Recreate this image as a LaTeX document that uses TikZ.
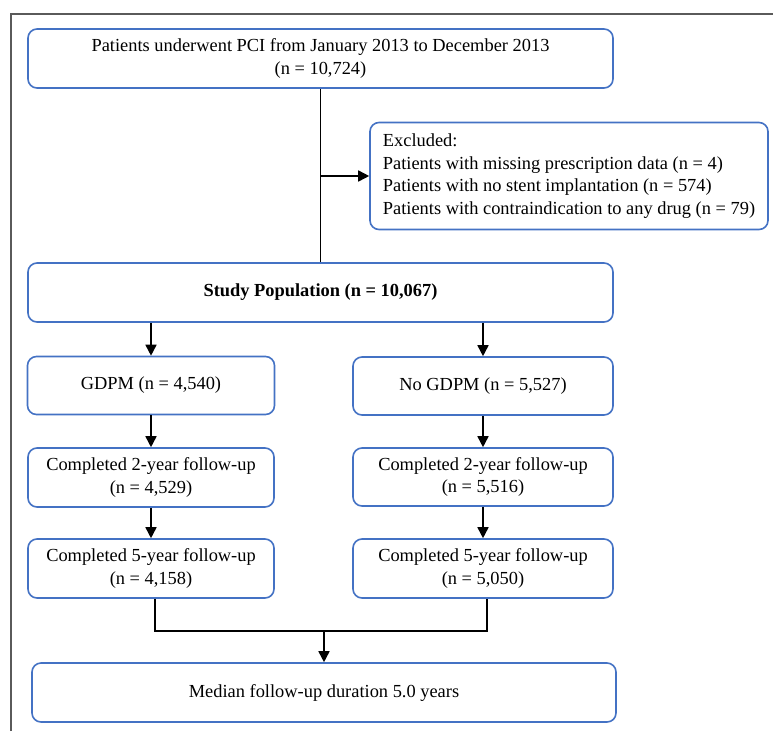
\documentclass[tikz,border=0pt]{standalone}
\usepackage{fontspec}
\setmainfont{Liberation Serif}
\usetikzlibrary{arrows.meta}
\definecolor{boxblue}{RGB}{68,114,196}
\definecolor{framegray}{RGB}{90,90,90}
\tikzset{
  flowbox/.style={draw=boxblue, line width=1.6pt, rounded corners=9pt, fill=white,
    align=center, inner sep=4pt},
  flowline/.style={line width=1.6pt, black},
}
\begin{document}
\begin{tikzpicture}[x=1pt, y=-1pt, >={Triangle[length=11pt,width=11pt]}, font=\fontsize{18.4}{22.5}\selectfont]
        \useasboundingbox (0,0) rectangle (773,731);
        \draw[framegray, line width=1.3pt] (11,731) -- (11,14) -- (773,14);
        % boxes
        \node[flowbox, minimum width=585pt, minimum height=59pt] (top) at (320.5,58.5)
                {Patients underwent PCI from January 2013 to December 2013\\(n = 10,724)};
        \node[flowbox, align=left, minimum width=398pt, minimum height=107pt] (excl) at (569,176)
                {Excluded:\\Patients with missing prescription data (n = 4)\\Patients with no stent implantation (n = 574)\\Patients with contraindication to any drug (n = 79)};
        \node[flowbox, minimum width=585pt, minimum height=59pt] (study) at (320.5,292.5)
                {\textbf{Study Population (n = 10,067)}};
        \node[flowbox, minimum width=247pt, minimum height=58pt] (gdpm) at (151,385.5) {GDPM (n = 4,540)};
        \node[flowbox, minimum width=260pt, minimum height=58pt] (nogdpm) at (483,386) {No GDPM (n = 5,527)};
        \node[flowbox, minimum width=246pt, minimum height=59pt] (left2) at (151,477.5)
                {Completed 2-year follow-up\\(n = 4,529)};
        \node[flowbox, minimum width=260pt, minimum height=58pt] (right2) at (483,477)
                {Completed 2-year follow-up\\(n = 5,516)};
        \node[flowbox, minimum width=246pt, minimum height=59pt] (left5) at (151,568.5)
                {Completed 5-year follow-up\\(n = 4,158)};
        \node[flowbox, minimum width=260pt, minimum height=59pt] (right5) at (483,568.5)
                {Completed 5-year follow-up\\(n = 5,050)};
        \node[flowbox, minimum width=584pt, minimum height=59pt] (median) at (324,692.5)
                {Median follow-up duration 5.0 years};
        % connectors
        \coordinate (split) at (top.south |- excl.west);
        \coordinate (join) at (324,631);
        \draw[flowline] (top) -- (study);
        \draw[flowline, ->] (split) -- (excl.west);
        \draw[flowline, ->] (study.south -| gdpm) -- (gdpm);
        \draw[flowline, ->] (study.south -| nogdpm) -- (nogdpm);
        \draw[flowline, ->] (gdpm) -- (left2);
        \draw[flowline, ->] (nogdpm) -- (right2);
        \draw[flowline, ->] (left2) -- (left5);
        \draw[flowline, ->] (right2) -- (right5);
        \draw[flowline] ([xshift=4pt]left5.south) |- (join) -| ([xshift=4pt]right5.south);
        \draw[flowline, ->] (join) -- (median);
\end{tikzpicture}
\end{document}
